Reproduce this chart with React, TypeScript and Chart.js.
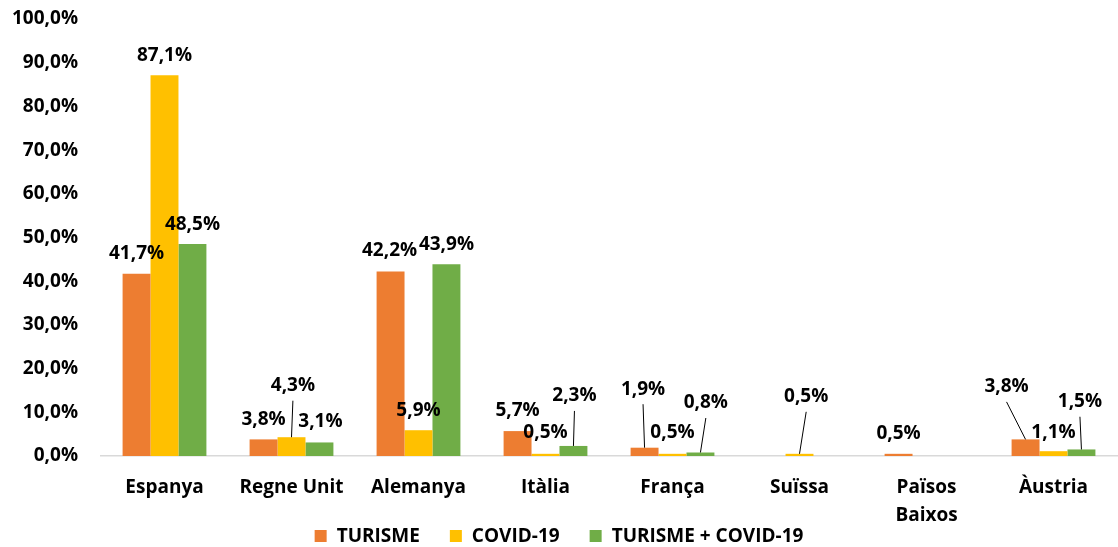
import React, { useEffect, useRef } from "react";
import { Chart, registerables } from "chart.js";

Chart.register(...registerables);

const categories = ["Espanya", "Regne Unit", "Alemanya", "Itàlia", "França", "Suïssa", "Països Baixos", "Àustria"];
const seriesNames = ["TURISME", "COVID-19", "TURISME + COVID-19"];
const turisme = [41.7, 3.8, 42.2, 5.7, 1.9, null, 0.5, 3.8];
const covid = [87.1, 4.3, 5.9, 0.5, 0.5, 0.5, null, 1.1];
const turismeCovid = [48.5, 3.1, 43.9, 2.3, 0.8, null, null, 1.5];
const yTicks = [0, 10, 20, 30, 40, 50, 60, 70, 80, 90, 100];
const colors = ["#ED7D31", "#FFC000", "#70AD47"];

// label placement relative to bar top: [dx, dy, hasLeader]
const labelPlacement: [number, number, boolean][][] = [
  [[0, -20, false], [0, -20, false], [-1, -21, false], [0, -20, false], [-1.5, -58.5, true], [0, -20, false], [0, -20, false], [-19, -52.5, true]],
  [[0, -20, false], [1.4, -51.5, true], [0, -20, false], [0, -21, false], [0, -21, false], [6.7, -57, true], [0, -20, false], [0, -19, false]],
  [[0, -19, false], [1, -21, false], [0, -20, false], [1, -50, true], [5.4, -49.5, true], [0, -20, false], [0, -20, false], [-1.5, -47.7, true]],
];

const FONT = "'Open Sans', 'Noto Sans', sans-serif";
const fmt = (v: number) => v.toFixed(1).replace(".", ",") + "%";

const labelsPlugin = {
  id: "valueLabels",
  afterDatasetsDraw(chart: any) {
    const ctx = chart.ctx;
    ctx.save();
    ctx.font = `700 19px ${FONT}`;
    ctx.fillStyle = "#000";
    ctx.textAlign = "center";
    ctx.textBaseline = "middle";
    chart.data.datasets.forEach((ds: any, di: number) => {
      const meta = chart.getDatasetMeta(di);
      meta.data.forEach((bar: any, i: number) => {
        const v = ds.data[i];
        if (v === null || v === undefined) return;
        const [dx, dy, leader] = labelPlacement[di][i];
        const tx = bar.x + dx;
        const ty = bar.y + dy;
        if (leader) {
          ctx.beginPath();
          ctx.strokeStyle = "#000";
          ctx.lineWidth = 1;
          ctx.moveTo(bar.x, bar.y);
          ctx.lineTo(tx, ty + 15);
          ctx.stroke();
        }
        ctx.fillText(fmt(v), tx, ty);
      });
    });
    ctx.restore();
  },
};

const legendPlugin = {
  id: "customLegend",
  afterDraw(chart: any) {
    const ctx = chart.ctx;
    ctx.save();
    ctx.font = `700 19px ${FONT}`;
    ctx.textBaseline = "middle";
    ctx.textAlign = "left";
    const box = 12;
    const gap = 10;
    const itemGap = 30;
    const widths = seriesNames.map((n) => box + gap + ctx.measureText(n).width);
    const total = widths.reduce((a, b) => a + b, 0) + itemGap * (widths.length - 1);
    let x = (chart.width - total) / 2;
    const cy = 536;
    seriesNames.forEach((n, i) => {
      ctx.fillStyle = colors[i];
      ctx.fillRect(x, cy - box / 2, box, box);
      ctx.fillStyle = "#000";
      ctx.fillText(n, x + box + gap, cy + 1);
      x += widths[i] + itemGap;
    });
    ctx.restore();
  },
};

export default function App() {
  const ref = useRef<HTMLCanvasElement>(null);
  useEffect(() => {
    if (!ref.current) return;
    const chart = new Chart(ref.current, {
      type: "bar",
      data: {
        labels: categories.map((c) => (c === "Països Baixos" ? c.split(" ") : c)),
        datasets: [turisme, covid, turismeCovid].map((d, i) => ({
          label: seriesNames[i],
          data: d,
          backgroundColor: colors[i],
          borderWidth: 0,
          categoryPercentage: 0.66,
          barPercentage: 1,
        })),
      },
      options: {
        responsive: false,
        animation: false,
        devicePixelRatio: 1,
        layout: { padding: { top: 19, right: 1, left: 0, bottom: 0 } },
        plugins: { legend: { display: false }, tooltip: { enabled: false } },
        scales: {
          x: {
            grid: { display: false, drawTicks: false },
            border: { display: true, color: "#d9d9d9", width: 1.5 },
            ticks: { color: "#000", padding: 17, font: { family: FONT, size: 19, weight: "700", lineHeight: 1.5 } },
            afterFit: (s: any) => {
              s.height = 91;
            },
          },
          y: {
            min: 0,
            max: 100,
            afterBuildTicks: (s: any) => {
              s.ticks = yTicks.map((v) => ({ value: v }));
            },
            grid: { display: false, drawTicks: false },
            border: { display: false },
            ticks: {
              color: "#000",
              padding: 23,
              font: { family: FONT, size: 19, weight: "700" },
              callback: (v: any) => fmt(Number(v)),
            },
            afterFit: (s: any) => {
              s.width = 101;
              s.paddingTop = 0;
              s.paddingBottom = 0;
            },
          },
        },
      },
      plugins: [labelsPlugin, legendPlugin],
    });
    return () => chart.destroy();
  }, []);
  return (
    <div style={{ position: "fixed", left: 0, top: 0, width: 1118, height: 547, background: "#fff" }}>
      <canvas ref={ref} width={1118} height={547} />
    </div>
  );
}
